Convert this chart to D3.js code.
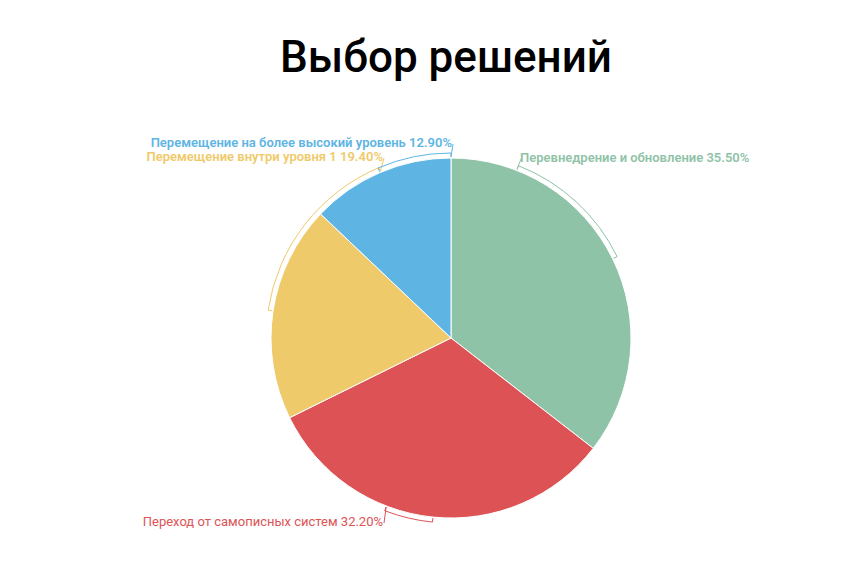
<!DOCTYPE html>
<html>
<head>
<meta charset="utf-8">
<script src="https://cdn.jsdelivr.net/npm/d3@7"></script>
<style>
    body { margin: 0; background: #fff; }
    text { font-family: Roboto, "Noto Sans", sans-serif; }
</style>
</head>
<body>
<script>
// Chart data
const title = "Выбор решений";
const categories = [
    "Перевнедрение и обновление",
    "Переход от самописных систем",
    "Перемещение внутри уровня 1",
    "Перемещение на более высокий уровень"
];
const shares = [35.5, 32.2, 19.4, 12.9];
const colors = ["#8fc3a7", "#dd5355", "#efca6a", "#5eb5e3"];

// Label layout: where the leader bracket ends and where the text sits
const labelLayout = [
    { angle: 21.4, x: 520, y: 162, anchor: "start", weight: 600 },
    { angle: 201, x: 383, y: 526, anchor: "end", weight: 400 },
    { angle: 337, x: 383, y: 161, anchor: "end", weight: 600 },
    { angle: 360, x: 452, y: 147, anchor: "end", weight: 600 }
];

let opts = {
    width: 853,
    height: 573,
    cx: 451,
    cy: 338,
    radius: 180
};

let svg = d3.select("body")
            .append("svg")
            .attr("width", opts.width)
            .attr("height", opts.height);

// Title
svg.append("text")
   .attr("x", 446)
   .attr("y", 72)
   .attr("text-anchor", "middle")
   .attr("font-size", 44)
   .attr("font-weight", 500)
   .attr("fill", "#000")
   .text(title);

let pie = d3.pie().sort(null).value(d => d);
let arcs = pie(shares);

let arc = d3.arc().innerRadius(0).outerRadius(opts.radius);

let g = svg.append("g")
           .attr("transform", `translate(${opts.cx},${opts.cy})`);

// Slices
g.selectAll("path.slice")
 .data(arcs)
 .enter()
 .append("path")
 .attr("class", "slice")
 .attr("d", arc)
 .attr("fill", (d, i) => colors[i])
 .attr("stroke", "#fff")
 .attr("stroke-width", 1);

// Point on a circle for a pie angle (0 = 12 o'clock, clockwise)
function pt(a, r) {
    return [Math.sin(a) * r, -Math.cos(a) * r];
}

// Leader brackets: from slice middle, along the rim, to the label
function bracket(d, i) {
    let L = labelLayout[i];
    let mid = (d.startAngle + d.endAngle) / 2;
    let a = L.angle * Math.PI / 180;
    let rIn = opts.radius + 1, rOut = opts.radius + 5;
    let p = d3.path();
    let p0 = pt(mid, rIn), p1 = pt(mid, rOut);
    p.moveTo(p0[0], p0[1]);
    p.lineTo(p1[0], p1[1]);
    p.arc(0, 0, rOut, mid - Math.PI / 2, a - Math.PI / 2, a < mid);
    let p2 = pt(a, rIn);
    p.lineTo(p2[0], p2[1]);
    let ex = L.x - opts.cx + 1;
    let ey = L.y - opts.cy - 3;
    p.lineTo(ex, ey);
    return p.toString();
}

g.selectAll("path.leader")
 .data(arcs)
 .enter()
 .append("path")
 .attr("class", "leader")
 .attr("d", bracket)
 .attr("fill", "none")
 .attr("stroke", (d, i) => colors[i])
 .attr("stroke-width", 1);

// Labels
svg.selectAll("text.label")
   .data(arcs)
   .enter()
   .append("text")
   .attr("class", "label")
   .attr("x", (d, i) => labelLayout[i].x)
   .attr("y", (d, i) => labelLayout[i].y)
   .attr("text-anchor", (d, i) => labelLayout[i].anchor)
   .attr("font-size", 13)
   .attr("font-weight", (d, i) => labelLayout[i].weight)
   .attr("fill", (d, i) => colors[i])
   .text((d, i) => `${categories[i]} ${shares[i].toFixed(2)}%`);
</script>
</body>
</html>
